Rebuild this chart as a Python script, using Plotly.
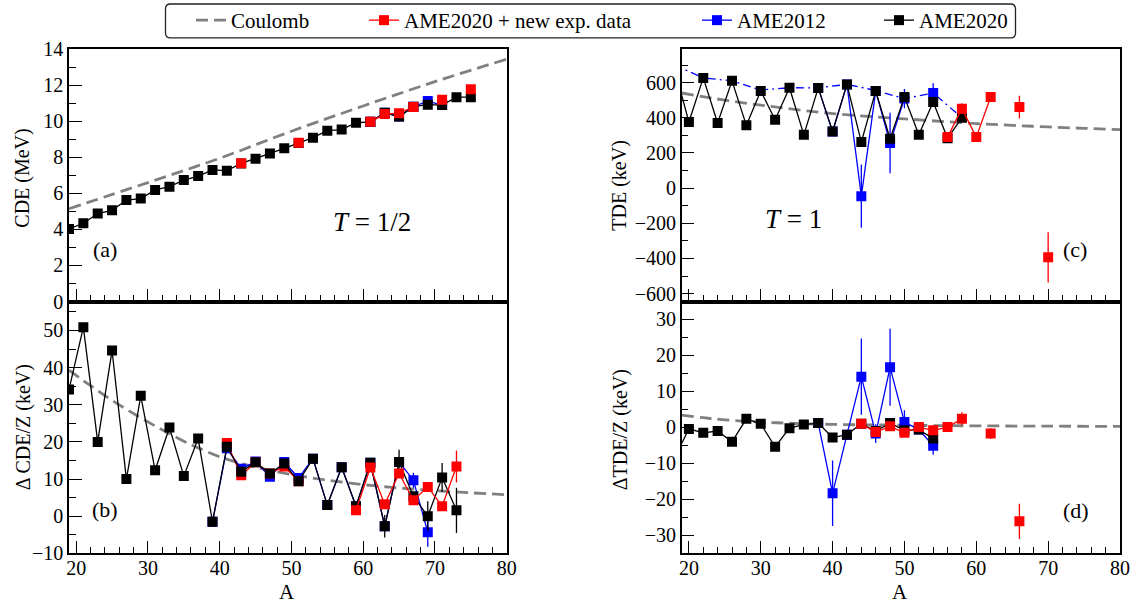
import plotly.graph_objects as go

FONT = "Liberation Serif"
RED, BLUE, BLACK, GRAY = "#ff0000", "#0000ff", "#000000", "#808080"

# ---------------- panel (a): CDE, T=1/2 ----------------
A_a = list(range(19, 76, 2))
cde_ame2020 = [4.03, 4.34, 4.88, 5.06, 5.63, 5.71, 6.19, 6.37, 6.74, 6.96, 7.30, 7.26,
               7.66, 7.92, 8.22, 8.50, 8.80, 9.09, 9.48, 9.54, 9.92, 9.97, 10.47, 10.27,
               10.81, 10.92, 10.90, 11.34, 11.34]
A_a_new = [43, 45, 51, 53, 61, 63, 65, 67, 69, 71, 73, 75]
cde_new = [7.67, None, 8.81, None, 9.97, 10.40, 10.45, 10.80, None, 11.19, None, 11.78]
A_a_2012 = [61, 63, 65, 67, 69, 71]
cde_2012 = [9.97, 10.47, 10.27, 10.81, 11.12, 10.90]
A_coul_a = [19, 30, 40, 50, 60, 70, 80]
cde_coul = [5.15, 6.6, 7.95, 9.45, 10.85, 12.2, 13.45]

# ---------------- panel (b): Delta CDE / Z ----------------
A_b = list(range(19, 74, 2))
dcde_ame2020 = [34.1, 50.9, 20.0, 44.6, 10.0, 32.4, 12.4, 23.9, 10.8, 20.9, -1.5, 18.7,
                12.0, 14.5, 11.5, 14.2, 9.4, 15.5, 3.0, 13.2, 2.7, 14.4, -2.7, 14.6,
                5.4, 0.0, 10.4, 1.6]
dcde_ame2020_err = [0, 0, 0, 0, 0, 0, 0, 0, 0, 0, 0, 0.5, 0.5, 0.5, 0.5, 0.5, 0.5, 0.5,
                    0.5, 0.5, 0.8, 1.2, 3.0, 3.3, 1.0, 4.0, 3.9, 6.1]
A_b_2012 = list(range(39, 70, 2))
dcde_2012 = [-1.5, 18.3, 12.8, 14.7, 10.6, 14.6, 10.3, 15.5, 3.0, 13.2, 2.7, 14.4,
             -2.7, 14.6, 9.7, -4.3]
dcde_2012_err = [0, 0, 0, 0, 0, 0, 0, 0, 0, 0, 0, 0, 0, 0, 2.0, 3.9]
A_b_new_low = [41, 43, 45, 47, 49, 51]
dcde_new_low = [19.7, 11.0, 14.5, 11.5, 13.4, 9.4]
A_b_new = [59, 61, 63, 65, 67, 69, 71, 73]
dcde_new = [1.6, 13.1, 3.2, 11.5, 4.3, 7.9, 2.7, 13.4]
dcde_new_err = [0.6, 1.0, 0.8, 1.2, 0.8, 1.2, 1.0, 4.3]
A_coul_b = [19, 21, 23, 25, 27, 29, 31, 33, 35, 37, 40, 45, 50, 55, 60, 65, 70, 75, 80]
dcde_coul = [39.3, 36.5, 33.8, 31.2, 28.8, 26.5, 24.3, 22.2, 20.2, 18.4, 16.0, 13.2,
             11.2, 9.7, 8.5, 7.6, 6.9, 6.3, 5.8]

# ---------------- panel (c): TDE, T=1 ----------------
A_c = list(range(18, 59, 2))
tde_ame2020 = [680, 376, 627, 370, 610, 357, 552, 389, 571, 303, 570, 322, 590, 262,
               552, 281, 518, 303, 490, 284, 400]
A_c_2012 = [38, 40, 42, 44, 46, 48, 50, 52, 54]
tde_2012 = [570, 322, 590, -46, 552, 256, 509, None, 541]
tde_2012_err = [0, 0, 0, 180, 0, 172, 55, 0, 55]
A_c_2012_b = [18, 22, 26, 30, 34, 38, 42, 46, 50, 54, 58]
tde_2012_b = [700, 627, 610, 558, 571, 570, 590, 555, 509, 541, 400]
A_c_new = [56, 58, 60, 62, 64, 66, 68, 70]
tde_new = [290, 452, 290, 518, None, 461, None, -394]
tde_new_err = [0, 30, 0, 28, 0, 65, 0, 143]
A_coul_c = [19, 25, 30, 35, 40, 45, 50, 55, 60, 65, 70, 75, 80]
tde_coul = [541, 500, 472, 446, 424, 408, 394, 380, 367, 357, 348, 340, 333]

# ---------------- panel (d): Delta TDE / Z ----------------
A_d = list(range(18, 55, 2))
dtde_ame2020 = [-8.5, -0.4, -1.5, -1.0, -4.0, 2.4, 1.0, -5.4, -0.2, 0.8, 1.2, -2.8,
                -2.0, 1.0, -1.0, 1.2, -0.8, -0.6, -3.1]
A_d_2012 = [38, 40, 42, 44, 46, 48, 50, 52, 54]
dtde_2012 = [1.2, -18.3, -2.0, 14.1, -1.7, 16.7, 1.5, -0.6, -5.1]
dtde_2012_err = [0.3, 9.1, 0.5, 10.6, 2.6, 10.7, 3.3, 0.5, 2.5]
A_d_new = [44, 46, 48, 50, 52, 54, 56, 58, 60, 62, 64, 66]
dtde_new = [1.0, -1.3, 0.3, -1.5, 0.1, -0.8, 0.1, 2.4, None, -1.7, None, -26.1]
dtde_new_err = [0.5, 0.5, 0.5, 0.5, 0.5, 0.5, 0.5, 1.8, 0, 1.5, 0, 4.9]
A_coul_d = [19, 22, 25, 30, 35, 40, 50, 60, 70, 80]
dtde_coul = [3.4, 2.7, 2.1, 1.5, 1.1, 0.85, 0.6, 0.45, 0.35, 0.3]

LEGEND_NAMES = ["Coulomb", "AME2020 + new exp. data", "AME2012", "AME2020"]

fig = go.Figure()


def series(x, y, color, xa, ya, err=None, name=None, legend=None, dash="solid",
           markers=True):
    tr = dict(
        x=x, y=y, xaxis=xa, yaxis=ya,
        mode="lines+markers" if markers else "lines",
        line=dict(color=color, width=1.3, dash=dash),
        showlegend=legend is not None,
        name=name or "",
        hoverinfo="x+y",
    )
    if markers:
        tr["marker"] = dict(symbol="square", size=10, color=color, line=dict(width=0))
    if err is not None:
        tr["error_y"] = dict(type="data", array=err, color=color, thickness=1.3, width=0)
    if legend is not None:
        tr["legend"] = legend
    fig.add_trace(go.Scatter(**tr))


def coulomb(x, y, xa, ya, legend=None):
    fig.add_trace(go.Scatter(
        x=x, y=y, xaxis=xa, yaxis=ya, mode="lines",
        line=dict(color=GRAY, width=2.8, dash="12px,6px", shape="spline"),
        name=LEGEND_NAMES[0], showlegend=legend is not None,
        **({"legend": legend} if legend else {}),
    ))


# (a)
coulomb(A_coul_a, cde_coul, "x", "y", legend="legend")
series(A_a_2012, cde_2012, BLUE, "x", "y", name=LEGEND_NAMES[2], legend="legend3")
series(A_a, cde_ame2020, BLACK, "x", "y", name=LEGEND_NAMES[3], legend="legend4")
series(A_a_new, cde_new, RED, "x", "y", name=LEGEND_NAMES[1], legend="legend2")

# (b)
coulomb(A_coul_b, dcde_coul, "x2", "y2")
series(A_b_2012, dcde_2012, BLUE, "x2", "y2", err=dcde_2012_err)
series(A_b_new_low, dcde_new_low, RED, "x2", "y2")
series(A_b, dcde_ame2020, BLACK, "x2", "y2", err=dcde_ame2020_err)
series(A_b_new, dcde_new, RED, "x2", "y2", err=dcde_new_err)

# (c)
coulomb(A_coul_c, tde_coul, "x3", "y3")
series(A_c_2012_b, tde_2012_b, BLUE, "x3", "y3", dash="8px,4px,2px,4px", markers=False)
series(A_c_2012, tde_2012, BLUE, "x3", "y3", err=tde_2012_err)
series(A_c, tde_ame2020, BLACK, "x3", "y3")
series(A_c_new, tde_new, RED, "x3", "y3", err=tde_new_err)

# (d)
coulomb(A_coul_d, dtde_coul, "x4", "y4")
series(A_d_2012, dtde_2012, BLUE, "x4", "y4", err=dtde_2012_err)
series(A_d, dtde_ame2020, BLACK, "x4", "y4")
series(A_d_new, dtde_new, RED, "x4", "y4", err=dtde_new_err)

W, H = 1138, 605
XL = [69 / W, 506.7 / W]
XR = [681.7 / W, 1120 / W]
YT = [1 - 301 / H, 1 - 48.3 / H]
YB = [1 - 553.3 / H, 1 - 301 / H]


def axis(domain, rng, dtick, minor, labels=True, anchor=None, standoff=0):
    return dict(
        domain=domain, range=rng, dtick=dtick, tick0=0, showline=True, linecolor=BLACK,
        linewidth=1.5, mirror=True, ticks="inside", ticklen=13, tickwidth=1.3,
        tickcolor=BLACK, showgrid=False, zeroline=False, showticklabels=labels,
        tickfont=dict(family=FONT, size=20, color=BLACK), anchor=anchor,
        ticklabelstandoff=standoff,
        minor=dict(ticks="inside", ticklen=7, tickwidth=1, tickcolor=BLACK, dtick=minor,
                   tick0=0, showgrid=False),
        automargin=False, fixedrange=True,
    )


layout = dict(
    width=W, height=H, margin=dict(l=0, r=0, t=0, b=0),
    paper_bgcolor="white", plot_bgcolor="white",
    font=dict(family=FONT, size=20, color=BLACK),
    xaxis=axis(XL, [19, 80], 10, 2, labels=False, anchor="y"),
    yaxis=axis(YT, [0, 14], 2, 1, anchor="x"),
    xaxis2=axis(XL, [19, 80], 10, 2, anchor="y2", standoff=-4),
    yaxis2=axis(YB, [-10, 57.8], 10, 5, anchor="x2"),
    xaxis3=axis(XR, [19, 80], 10, 2, labels=False, anchor="y3"),
    yaxis3=axis(YT, [-645, 790], 200, 100, anchor="x3"),
    xaxis4=axis(XR, [19, 80], 10, 2, anchor="y4", standoff=-4),
    yaxis4=axis(YB, [-35, 35], 10, 5, anchor="x4"),
)

leg_y = 1 - 20 / H
leg_x = [191, 364, 697, 879]
for i, lx in enumerate(leg_x):
    key = "legend" if i == 0 else f"legend{i + 1}"
    layout[key] = dict(x=lx / W, y=leg_y, xanchor="left", yanchor="middle",
                       orientation="h", bgcolor="rgba(0,0,0,0)", borderwidth=0,
                       font=dict(family=FONT, size=21, color=BLACK))
fig.update_layout(**layout)

# rounded legend frame
x0, x1 = 165.5 / W, 1015.5 / W
yt, yb = 1 - 3 / H, 1 - 37 / H
rx, ry = 5 / W, 5 / H
path = (f"M {x0 + rx},{yt} L {x1 - rx},{yt} Q {x1},{yt} {x1},{yt - ry} "
        f"L {x1},{yb + ry} Q {x1},{yb} {x1 - rx},{yb} L {x0 + rx},{yb} "
        f"Q {x0},{yb} {x0},{yb + ry} L {x0},{yt - ry} Q {x0},{yt} {x0 + rx},{yt} Z")
fig.add_shape(type="path", path=path, xref="paper", yref="paper",
              line=dict(color="#222222", width=1.3), layer="above")

ann = []


def txt(text, x, y, xref, yref, size=22, angle=0):
    ann.append(dict(text=text, x=x, y=y, xref=xref, yref=yref, showarrow=False,
                    font=dict(family=FONT, size=size, color=BLACK), textangle=angle,
                    xanchor="center", yanchor="middle"))


txt("(a)", 24, 2.86, "x", "y")
txt("<i>T</i> = 1/2", 61.2, 4.43, "x", "y", size=27)
txt("(b)", 24, 1.7, "x2", "y2")
txt("(c)", 73.7, -347, "x3", "y3")
txt("<i>T</i> = 1", 34.5, -176, "x3", "y3", size=27)
txt("(d)", 73.9, -23.1, "x4", "y4")

txt("CDE (MeV)", 23 / W, 1 - 178 / H, "paper", "paper", size=20, angle=-90)
txt("Δ CDE/Z (keV)", 23 / W, 1 - 427 / H, "paper", "paper", size=20, angle=-90)
txt("TDE (keV)", 620 / W, 1 - 185 / H, "paper", "paper", size=20, angle=-90)
txt("ΔTDE/Z (keV)", 620 / W, 1 - 430 / H, "paper", "paper", size=20, angle=-90)
txt("A", 287 / W, 1 - 592 / H, "paper", "paper", size=21)
txt("A", 900 / W, 1 - 592 / H, "paper", "paper", size=21)
fig.update_layout(annotations=ann)

fig.write_html(
    "out.html",
    config={"displayModeBar": False},
    post_script="document.body.style.margin='0';document.body.style.padding='0';"
                "document.documentElement.style.overflow='hidden';",
)
